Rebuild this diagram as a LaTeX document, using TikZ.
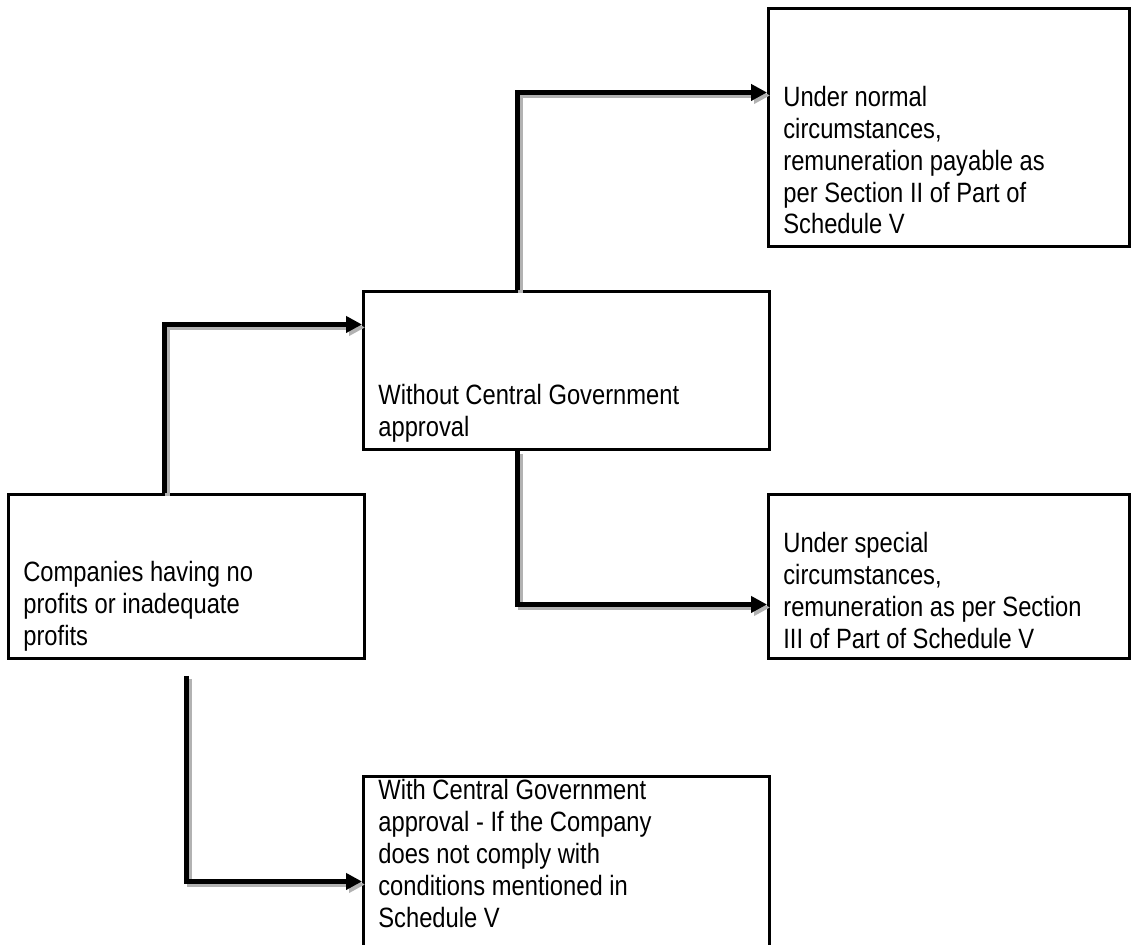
\documentclass[tikz,border=0pt]{standalone}
\usepackage{fontspec}
\setmainfont{Liberation Sans}[FakeStretch=0.85]
\usetikzlibrary{arrows.meta,calc}

\begin{document}
\begin{tikzpicture}[x=0.02cm, y=-0.02cm,
  box/.style={draw, line width=1.7pt, anchor=north west, inner sep=0pt},
  txt/.style={anchor=base west, inner sep=0pt, align=left, font=\fontsize{15.9pt}{18.1pt}\selectfont},
  flow/.style={line width=2.8pt, -{Triangle[length=0.32cm, width=0.32cm]}},
  flowshadow/.style={flow, draw=black!30, transform canvas={xshift=0.06cm, yshift=-0.06cm}}]
\clip (0,0) rectangle (1131,945);
% Nodes
\node[box, minimum width=7.12cm, minimum height=3.28cm] (noprofit) at (7,493) {};
\node[box, minimum width=8.12cm, minimum height=3.16cm] (without) at (362,290) {};
\node[box, minimum width=7.22cm, minimum height=4.76cm] (normal) at (767,7) {};
\node[box, minimum width=7.22cm, minimum height=3.28cm] (special) at (767,493) {};
\node[box, minimum width=8.12cm, minimum height=4.2cm] (with) at (362,775) {};
% Texts (placed by the baseline of their last line)
\node[txt] (noprofittxt) at (23,645) {Companies having no\\profits or inadequate\\profits};
\node[txt] (withouttxt) at (378,436) {Without Central Government\\approval};
\node[txt] (normaltxt) at (783,234) {Under normal\\circumstances,\\remuneration payable as\\per Section II of Part of\\Schedule V};
\node[txt] (specialtxt) at (783,648) {Under special\\circumstances,\\remuneration as per Section\\III of Part of Schedule V};
\node[txt] (withtxt) at (378,927) {With Central Government\\approval - If the Company\\does not comply with\\conditions mentioned in\\Schedule V};
% Arrows
\draw[flowshadow] ($(noprofit.north)+(-22,0)$) |- ($(without.west)+(0,-46)$);
\draw[flow] ($(noprofit.north)+(-22,0)$) |- ($(without.west)+(0,-46)$);
\draw[flowshadow] ($(without.north)+(-49,0)$) |- ($(normal.west)+(0,-35)$);
\draw[flow] ($(without.north)+(-49,0)$) |- ($(normal.west)+(0,-35)$);
\draw[flowshadow] ($(without.south)+(-49,0)$) |- ($(special.west)+(0,28)$);
\draw[flow] ($(without.south)+(-49,0)$) |- ($(special.west)+(0,28)$);
\draw[flowshadow] ($(noprofit.south)+(0,16)$) |- (with.west);
\draw[flow] ($(noprofit.south)+(0,16)$) |- (with.west);
\end{tikzpicture}
\end{document}
